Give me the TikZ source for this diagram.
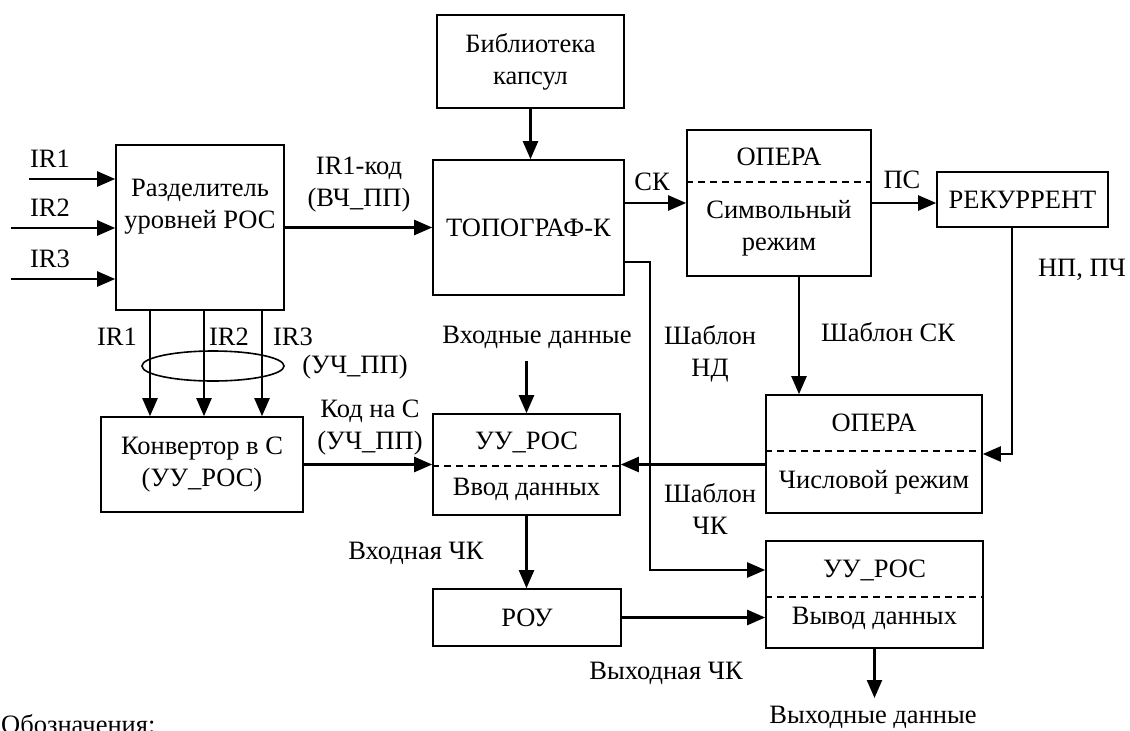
\documentclass[tikz,border=0pt]{standalone}
\usepackage{fontspec}
\setmainfont{Liberation Serif}
\usetikzlibrary{arrows.meta}

\tikzset{
  blok/.style = {draw, line width=1.6pt, inner sep=0pt},
  txt/.style = {align=center, inner sep=0pt},
  strl/.style = {line width=2.3pt, -{Triangle[length=18pt, width=15pt]}},
  shtrih/.style = {line width=1.4pt, dash pattern=on 7pt off 5pt},
}

\begin{document}
\begin{tikzpicture}[x=1pt, y=-1pt, font=\fontsize{26.5}{32}\selectfont]
\useasboundingbox (0,0) rectangle (1130,731);

\node[blok, minimum width=168pt, minimum height=165pt] (razd) at (200,227.5) {};
\node[txt] (razd-t) at (200,207) {Разделитель\\уровней РОС};
\node[blok, minimum width=187pt, minimum height=93pt, txt] (bib) at (530.5,61.5) {Библиотека\\капсул};
\node[blok, minimum width=191pt, minimum height=135pt] (topo) at (528.5,227.5) {ТОПОГРАФ-К};
\node[blok, minimum width=184pt, minimum height=146pt] (opera1) at (779,203) {};
\node[txt] (opera1-a) at (779,157) {ОПЕРА};
\node[txt] (opera1-b) at (779,228.5) {Символьный\\режим};
\node[blok, minimum width=171pt, minimum height=55pt] (rek) at (1022.5,199.5) {РЕКУРРЕНТ};
\node[blok, minimum width=216pt, minimum height=118pt] (opera2) at (874,454) {};
\node[txt] (opera2-a) at (874,423) {ОПЕРА};
\node[txt] (opera2-b) at (874,482) {Числовой режим};
\node[blok, minimum width=202pt, minimum height=95pt, txt] (konv) at (202,464.5) {Конвертор в С\\(УУ\_РОС)};
\node[blok, minimum width=187pt, minimum height=101pt] (vvod) at (526.5,464.5) {};
\node[txt] (vvod-a) at (526.5,442) {УУ\_РОС};
\node[txt] (vvod-b) at (526.5,489) {Ввод данных};
\node[blok, minimum width=188pt, minimum height=57pt] (rou) at (527,617.5) {РОУ};
\node[blok, minimum width=217pt, minimum height=107pt] (vyvod) at (874.5,594.5) {};
\node[txt] (vyvod-a) at (874.5,570) {УУ\_РОС};
\node[txt] (vyvod-b) at (874.5,618) {Вывод данных};

\draw[shtrih] (opera1.west |- 0,182) -- (opera1.east |- 0,182);
\draw[shtrih] (opera2.west |- 0,451) -- (opera2.east |- 0,451);
\draw[shtrih] (vvod.west |- 0,466) -- (vvod.east |- 0,466);
\draw[shtrih] (vyvod.west |- 0,597) -- (vyvod.east |- 0,597);

% входы разделителя
\foreach \n/\x/\y in {1/29/179, 2/11/228, 3/11/279}{
  \coordinate (in\n) at (\x,\y);
  \draw[strl] (in\n) -- (in\n -| razd.west);
  \node[txt] (lin\n) at (50,\y-20) {IR\n};
}

\foreach \n/\x/\lx in {1/150/117, 2/204/229, 3/262/293}{
  \draw[strl] (razd.south -| \x,0) -- (konv.north -| \x,0);
  \node[txt] (lir\n) at (\lx,337) {IR\n};
}
\draw[line width=1.6pt] (213,366) ellipse [x radius=71pt, y radius=15pt];
\node[txt] (uch1) at (355,367) {(УЧ\_ПП)};

\draw[strl] (razd.east) -- (topo.west);
\node[txt] (kod) at (359,184.5) {IR1-код\\(ВЧ\_ПП)};
\draw[strl] (bib.south) -- (bib.south |- topo.north);
\draw[strl] (opera1.west -| topo.east) -- (opera1.west);
\node[txt] (sk) at (652,182) {СК};
\draw[strl] (opera1.east) -- (opera1.east -| rek.west);
\node[txt] (ps) at (902,180) {ПС};
\draw[strl] ([xshift=20pt]opera1.south) -- ([xshift=20pt]opera1.south |- opera2.north);
\node[txt] (shsk) at (888,332) {Шаблон СК};
\draw[strl] ([xshift=-10.5pt]rek.south) |- (opera2.east);
\node[txt] (npch) at (1082,270) {НП, ПЧ};
\draw[strl] (vvod.east -| opera2.west) -- (vvod.east);
\draw[strl] ([yshift=-34.5pt]topo.east) -- ++(25,0) |- ([yshift=24.5pt]vyvod.west);
\node[txt] (shnd) at (710,353.5) {Шаблон\\НД};
\node[txt] (shchk) at (710,509) {Шаблон\\ЧК};

\draw[strl] (konv.east) -- (vvod.west);
\node[txt] (kodc) at (370,427.5) {Код на С\\(УЧ\_ПП)};
\node[txt] (vhd) at (537,337) {Входные данные};
\draw[strl] ([yshift=52pt]vvod.north) -- (vvod.north);
\draw[strl] (vvod.south) -- (vvod.south |- rou.north);
\node[txt] (vhchk) at (416,553) {Входная ЧК};
\draw[strl] (rou.east) -- (rou.east -| vyvod.west);
\node[txt] (vychk) at (666,673) {Выходная ЧК};
\coordinate (vyh) at (873,698);
\draw[strl] (vyvod.south) -- (vyvod.south |- vyh);
\node[txt] (vyhd) at (873,717) {Выходные данные};

\node[anchor=base west, inner sep=0pt] (oboz) at (1,733) {Обозначения:};
\end{tikzpicture}
\end{document}
